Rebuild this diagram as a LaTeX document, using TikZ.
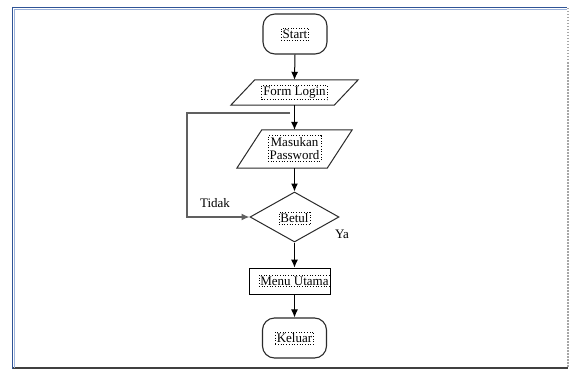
\documentclass[tikz,border=0pt]{standalone}
\usepackage{fontspec}
\setmainfont{Liberation Serif}
\usetikzlibrary{shapes.geometric,arrows.meta}
\definecolor{frameblue}{HTML}{2F5496}
\definecolor{framelight}{HTML}{9DB3DA}
\definecolor{outline}{HTML}{2A2A2A}
\tikzset{
  every node/.style={font=\fontsize{13}{13.5}\selectfont},
  textbox/.style={draw=black, dotted, inner sep=1.5pt, line width=0.7pt, align=center},
  terminal/.style={draw=outline, line width=1.1pt, rounded corners=12pt,
    minimum width=64pt, minimum height=40pt, inner sep=0pt},
  iobox/.style={inner sep=0pt},
  ioline/.style={draw=outline, line width=1pt},
  decision/.style={draw=outline, line width=1pt, diamond, inner sep=0pt,
    minimum width=89pt, minimum height=50pt},
  process/.style={draw=black, line width=0.9pt, minimum width=81pt,
    minimum height=26pt, inner sep=0pt},
  flow/.style={draw=black, line width=1pt, -{Latex[length=8pt,width=7pt]}},
  loopline/.style={draw=gray!75!black, line width=1.4pt, -{Latex[length=8pt,width=7pt]}},
  lbl/.style={inner sep=0pt}
}
\begin{document}
\begin{tikzpicture}[x=1pt,y=-1pt]
  \useasboundingbox (0,0) rectangle (570,369);
  % page frame
  \draw[gray!70, line width=1.2pt, dash pattern=on 1.5pt off 1.5pt] (568,8) -- (568,368);
  \draw[black!75, line width=1.8pt] (13,368) -- (568,368);
  \draw[framelight, line width=1pt] (14.5,9.5) -- (567,9.5);
  \draw[framelight, line width=1pt] (14.5,9.5) -- (14.5,368);
  \draw[frameblue, line width=1.8pt] (12,7.5) -- (567,7.5);
  \draw[frameblue, line width=1.8pt] (12.5,7) -- (12.5,368.5);

  % flowchart nodes
  \node[terminal, label={[textbox]center:Start}] (start) at (295,34) {};
  \node[iobox, minimum width=103pt, minimum height=25pt,
        label={[textbox]center:Form Login}] (form) at (294.5,92.5) {};
  \draw[ioline] ([xshift=-12pt]form.south west) -- ([xshift=-12pt]form.south east)
     -- ([xshift=12pt]form.north east) -- ([xshift=12pt]form.north west) -- cycle;
  \node[iobox, minimum width=90pt, minimum height=38pt,
        label={[textbox, yshift=0.5pt]center:Masukan\\Password}] (pass) at (294.5,149) {};
  \draw[ioline] ([xshift=-12.5pt]pass.south west) -- ([xshift=-12.5pt]pass.south east)
     -- ([xshift=12.5pt]pass.north east) -- ([xshift=12.5pt]pass.north west) -- cycle;
  \node[decision, label={[textbox, yshift=-1.5pt]center:Betul}] (betul) at (294.5,217) {};
  \node[process, label={[textbox, xshift=5pt]center:Menu Utama}] (menu) at (289.5,281) {};
  \node[terminal, label={[textbox]center:Keluar}] (keluar) at (294.5,338) {};

  % branch labels
  \node[lbl] (tidak) at (215,203) {Tidak};
  \node[lbl] (ya) at (342,234) {Ya};

  % connectors
  \draw[flow] (start.south) -- (form.north);
  \draw[flow] (form.south) -- (pass.north);
  \draw[flow] (pass.south) -- (betul.north);
  \draw[flow] (betul.south) -- (betul.south |- menu.north);
  \draw[flow] (betul.south |- menu.south) -- (keluar.north);

  % "Tidak" loop back into the decision
  \coordinate (loopstart) at (290,113);
  \draw[loopline] (loopstart) -- (187,113) |- (betul.west);
\end{tikzpicture}
\end{document}
